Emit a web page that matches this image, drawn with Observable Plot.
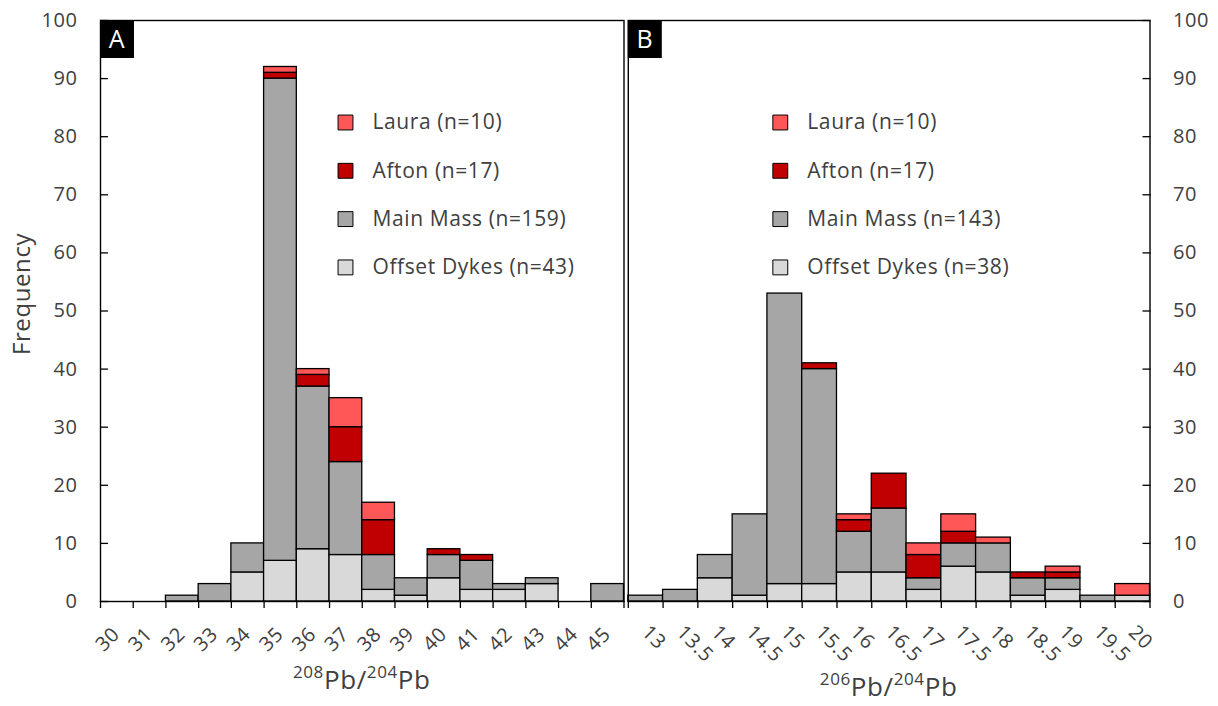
<!DOCTYPE html>
<html>
<head>
<meta charset="utf-8">
<script src="https://cdn.jsdelivr.net/npm/d3@7"></script>
<script src="https://cdn.jsdelivr.net/npm/@observablehq/plot@0.6"></script>
<style>
  html, body { margin: 0; padding: 0; background: #fff; }
  #wrap { position: relative; width: 1218px; height: 706px; overflow: hidden; font-family: "Open Sans", sans-serif; }
  #wrap svg { position: absolute; top: 0; overflow: visible; }
</style>
</head>
<body>
<div id="wrap"></div>
<script>
// ---------- data ----------
const seriesNames  = ["Offset Dykes", "Main Mass", "Afton", "Laura"];   // stacking order (bottom → top)
const seriesColors = ["#D9D9D9", "#A6A6A6", "#C00000", "#FF5757"];
const legendOrder  = ["Laura", "Afton", "Main Mass", "Offset Dykes"];

// Panel A: 208Pb/204Pb
const labelsA = ["30","31","32","33","34","35","36","37","38","39","40","41","42","43","44","45"];
const offsetA = [0, 0, 0, 0, 5, 7, 9, 8, 2, 1, 4, 2, 2, 3, 0, 0];
const mainA   = [0, 0, 1, 3, 5, 83, 28, 16, 6, 3, 4, 5, 1, 1, 0, 3];
const aftonA  = [0, 0, 0, 0, 0, 1, 2, 6, 6, 0, 1, 1, 0, 0, 0, 0];
const lauraA  = [0, 0, 0, 0, 0, 1, 1, 5, 3, 0, 0, 0, 0, 0, 0, 0];

// Panel B: 206Pb/204Pb
const labelsB = ["13","13.5","14","14.5","15","15.5","16","16.5","17","17.5","18","18.5","19","19.5","20"];
const offsetB = [0, 0, 4, 1, 3, 3, 5, 5, 2, 6, 5, 1, 2, 0, 1];
const mainB   = [1, 2, 4, 14, 50, 37, 7, 11, 2, 4, 5, 3, 2, 1, 0];
const aftonB  = [0, 0, 0, 0, 0, 1, 2, 6, 4, 2, 0, 1, 1, 0, 0];
const lauraB  = [0, 0, 0, 0, 0, 0, 1, 0, 2, 3, 1, 0, 1, 0, 2];

const yTicks = [0, 10, 20, 30, 40, 50, 60, 70, 80, 90, 100];
const titleA = ["208", "Pb/", "204", "Pb"];
const titleB = ["206", "Pb/", "204", "Pb"];

// ---------- helpers ----------
const textColor = "#404040";
function rowsFor(seriesArrays) {
  const rows = [];
  seriesArrays[0].forEach((_, i) => {
    seriesNames.forEach((s, k) => {
      const v = seriesArrays[k][i];
      if (v > 0) rows.push({i, s, v});
    });
  });
  return rows;
}

function panelTag(letter) {
  return (index, scales, values, dims) => {
    const g = d3.create("svg:g");
    g.append("rect").attr("x", dims.marginLeft).attr("y", dims.marginTop)
      .attr("width", 34).attr("height", 38).attr("fill", "#000");
    g.append("text").attr("x", dims.marginLeft + 17).attr("y", dims.marginTop + 19)
      .attr("text-anchor", "middle").attr("dy", "0.36em").attr("fill", "#fff")
      .attr("font-size", 25).text(letter);
    return g.node();
  };
}

function xTitle(parts, offset) {
  return (index, scales, values, dims) => {
    const cx = (dims.marginLeft + dims.width - dims.marginRight) / 2;
    const y = dims.height - dims.marginBottom + offset;
    const t = d3.create("svg:text").attr("x", cx).attr("y", y)
      .attr("text-anchor", "middle").attr("fill", textColor).attr("font-size", 26)
      .style("letter-spacing", "0.6px");
    t.append("tspan").attr("font-size", 17).attr("dy", -11).text(parts[0]);
    t.append("tspan").attr("dy", 11).text(parts[1]);
    t.append("tspan").attr("font-size", 17).attr("dy", -11).text(parts[2]);
    t.append("tspan").attr("dy", 11).text(parts[3]);
    return t.node();
  };
}

function legendMarks(counts, dxSq, dxText) {
  const marks = [];
  legendOrder.forEach((s, k) => {
    const dy = 102 + 48.3 * k;
    marks.push(Plot.dot([s], {frameAnchor: "top-left", dx: dxSq, dy, symbol: "square", r: 8.4,
      fill: seriesColors[seriesNames.indexOf(s)], stroke: "#000", strokeWidth: 1}));
    marks.push(Plot.text([`${s} (n=${counts[s]})`], {frameAnchor: "top-left", dx: dxText, dy,
      textAnchor: "start", lineAnchor: "middle", fill: textColor, fontSize: 21}));
  });
  return marks;
}

function makePanel({labels, arrays, width, marginLeft, marginRight, side, tag, title, titleOffset,
                    labelRotate, labelDx, labelDy, legendDx, legendTextDx, extra}) {
  const rows = rowsFor(arrays);
  const counts = {};
  seriesNames.forEach((s, k) => counts[s] = d3.sum(arrays[k]));
  const n = labels.length;
  return Plot.plot({
    width, height: 706,
    marginLeft, marginRight, marginTop: 20, marginBottom: 105,
    x: {domain: [0, n], label: null},
    y: {domain: [0, 100], label: null},
    color: {domain: seriesNames, range: seriesColors},
    style: {fontFamily: "'Open Sans', sans-serif", fontSize: "20px", color: textColor,
            background: "transparent", overflow: "visible", letterSpacing: "0.6px"},
    marks: [
      Plot.rectY(rows, {x1: "i", x2: d => d.i + 1, y: "v", fill: "s", stroke: "#000", strokeWidth: 1.3}),
      Plot.frame({stroke: "#000", strokeWidth: 1.4}),
      Plot.axisY(yTicks, {anchor: side, tickSize: -8, fill: "none", stroke: "#000", strokeWidth: 1.3, label: null}),
      Plot.axisY(yTicks, {anchor: side, tickSize: 0, tickPadding: 23, fill: textColor, label: null}),
      Plot.axisX(d3.range(n + 1), {anchor: "bottom", tickSize: 7, fill: "none", stroke: "#000", strokeWidth: 1.3, label: null}),
      Plot.text(labels, {x: (d, i) => i + 0.5, frameAnchor: "bottom", rotate: labelRotate,
        textAnchor: labelRotate < 0 ? "end" : "start", lineAnchor: "bottom",
        dx: labelDx, dy: labelDy, fill: textColor, fontSize: 20}),
      ...legendMarks(counts, legendDx, legendTextDx),
      panelTag(tag),
      xTitle(title, titleOffset),
      ...(extra || [])
    ]
  });
}

const wrap = document.getElementById("wrap");

const svgA = makePanel({
  labels: labelsA, arrays: [offsetA, mainA, aftonA, lauraA],
  width: 626, marginLeft: 100, marginRight: 2.5, side: "left", tag: "A",
  title: titleA, titleOffset: 88, labelRotate: -45, labelDx: 4, labelDy: 34,
  legendDx: 245, legendTextDx: 272,
  extra: [Plot.text(["Frequency"], {frameAnchor: "left", dx: -78, dy: -17, rotate: -90,
    textAnchor: "middle", lineAnchor: "middle", fill: textColor, fontSize: 24})]
});
svgA.style.left = "0px";
wrap.appendChild(svgA);

const svgB = makePanel({
  labels: labelsB, arrays: [offsetB, mainB, aftonB, lauraB],
  width: 592, marginLeft: 1.8, marginRight: 68.5, side: "right", tag: "B",
  title: titleB, titleOffset: 95, labelRotate: 45, labelDx: -5, labelDy: 32,
  legendDx: 152, legendTextDx: 179
});
svgB.style.left = "626px";
wrap.appendChild(svgB);
</script>
</body>
</html>
